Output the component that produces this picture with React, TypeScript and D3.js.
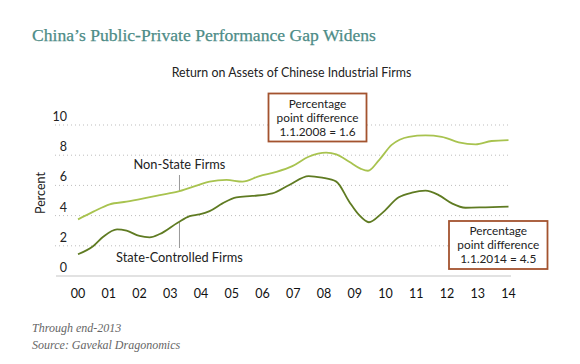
import * as d3 from "d3";

const yearTicks = ["00", "01", "02", "03", "04", "05", "06", "07", "08", "09", "10", "11", "12", "13", "14"];
const valueTicks = [0, 2, 4, 6, 8, 10];

// x positions in years after the "00" tick
const nonStateYears = [0, 0.5, 1.03, 1.58, 2.1, 2.66, 3.24, 3.73, 4.28, 4.83, 5.35, 5.9, 6.45, 6.97, 7.5, 8.07, 8.4, 8.82, 9.2, 9.43, 9.79, 10.2, 10.76, 11.3, 11.83, 12.38, 12.93, 13.45, 14];
const nonStateValues = [3.75, 4.26, 4.75, 4.92, 5.12, 5.36, 5.58, 5.9, 6.25, 6.36, 6.25, 6.62, 6.9, 7.28, 7.9, 8.17, 8.06, 7.57, 7.1, 6.97, 7.68, 8.68, 9.22, 9.31, 9.22, 8.85, 8.72, 8.94, 9.0];

const stateYears = [0, 0.5, 0.82, 1.27, 1.58, 2.0, 2.33, 2.66, 3.24, 3.63, 3.95, 4.28, 4.7, 5.15, 5.67, 6.32, 6.87, 7.5, 7.94, 8.4, 8.82, 9.14, 9.46, 9.88, 10.43, 10.86, 11.3, 11.73, 12.16, 12.6, 13.25, 14];
const stateValues = [1.44, 1.99, 2.6, 3.09, 3.0, 2.65, 2.56, 2.78, 3.53, 3.97, 4.08, 4.3, 4.81, 5.21, 5.3, 5.47, 6.03, 6.62, 6.51, 6.25, 4.92, 4.04, 3.56, 4.15, 5.21, 5.52, 5.65, 5.36, 4.81, 4.52, 4.55, 4.59];

const sans = "Lato, 'Open Sans', sans-serif";
const serif = "'Liberation Serif', serif";
const boxColor = "#a3532f";

export default function App() {
  const width = 580;
  const height = 364;
  const x = d3.scaleLinear().domain([0, 14]).range([78, 508.5]);
  const y = d3.scaleLinear().domain([0, 10]).range([276, 125]);

  const line = d3
    .line<[number, number]>()
    .x((d) => x(d[0]))
    .y((d) => y(d[1]))
    .curve(d3.curveMonotoneX);

  const nonState = nonStateYears.map((yr, i) => [yr, nonStateValues[i]] as [number, number]);
  const state = stateYears.map((yr, i) => [yr, stateValues[i]] as [number, number]);

  const boxes = [
    { left: 268.5, top: 93.5, w: 98, h: 48, lines: ["Percentage", "point difference", "1.1.2008 = 1.6"] },
    { left: 449, top: 221, w: 98.5, h: 48, lines: ["Percentage", "point difference", "1.1.2014 = 4.5"] },
  ];

  return (
    <svg
      width={width}
      height={height}
      style={{ position: "absolute", left: 0, top: 0, background: "#fff" }}
    >
      <text x={32} y={41} fontFamily={serif} fontSize={17.6} fill="#4d8c87" stroke="#4d8c87" strokeWidth={0.25}>
        China’s Public-Private Performance Gap Widens
      </text>
      <text x={291.5} y={77} textAnchor="middle" fontFamily={sans} fontSize={12.4} fill="#222">
        Return on Assets of Chinese Industrial Firms
      </text>

      {valueTicks.map((v) => (
        <g key={v}>
          {v > 0 && (
            <line
              x1={55}
              x2={510}
              y1={y(v)}
              y2={y(v)}
              stroke="#bdbdbd"
              strokeWidth={1}
              strokeDasharray="1 3"
            />
          )}
          <text x={67} y={y(v) - 4} textAnchor="end" fontFamily={sans} fontSize={12.5} fill="#222">
            {v}
          </text>
        </g>
      ))}
      <line x1={56} x2={511} y1={y(0)} y2={y(0)} stroke="#e2e2e2" strokeWidth={2} />

      <text
        transform={`translate(45,193) rotate(-90)`}
        textAnchor="middle"
        fontFamily={sans}
        fontSize={12.5}
        fill="#222"
      >
        Percent
      </text>

      {yearTicks.map((t, i) => (
        <text key={t} x={x(i)} y={298} textAnchor="middle" fontFamily={sans} fontSize={12.5} fill="#111">
          {t}
        </text>
      ))}

      <line x1={x(3.3)} x2={x(3.3)} y1={175} y2={y(5.6)} stroke="#999" strokeWidth={1} />
      <line x1={x(3.3)} x2={x(3.3)} y1={y(3.55)} y2={248} stroke="#999" strokeWidth={1} />

      <path d={line(nonState) ?? ""} fill="none" stroke="#a8c34f" strokeWidth={1.8} />
      <path d={line(state) ?? ""} fill="none" stroke="#5f7b22" strokeWidth={1.8} />

      <text x={x(3.3)} y={169} textAnchor="middle" fontFamily={sans} fontSize={12.8} fill="#222">
        Non-State Firms
      </text>
      <text x={x(3.3)} y={262} textAnchor="middle" fontFamily={sans} fontSize={12.8} fill="#222">
        State-Controlled Firms
      </text>

      {boxes.map((b, i) => (
        <g key={i}>
          <rect x={b.left} y={b.top} width={b.w} height={b.h} fill="#fff" stroke={boxColor} strokeWidth={1.8} />
          {b.lines.map((l, j) => (
            <text
              key={j}
              x={b.left + b.w / 2}
              y={b.top + 14 + j * 14}
              textAnchor="middle"
              fontFamily={sans}
              fontSize={11.8}
              fill="#222"
            >
              {l}
            </text>
          ))}
        </g>
      ))}

      <text x={32} y={332} fontFamily={serif} fontStyle="italic" fontSize={12} fill="#666">
        Through end-2013
      </text>
      <text x={32} y={349} fontFamily={serif} fontStyle="italic" fontSize={12} fill="#666">
        Source: Gavekal Dragonomics
      </text>
    </svg>
  );
}
